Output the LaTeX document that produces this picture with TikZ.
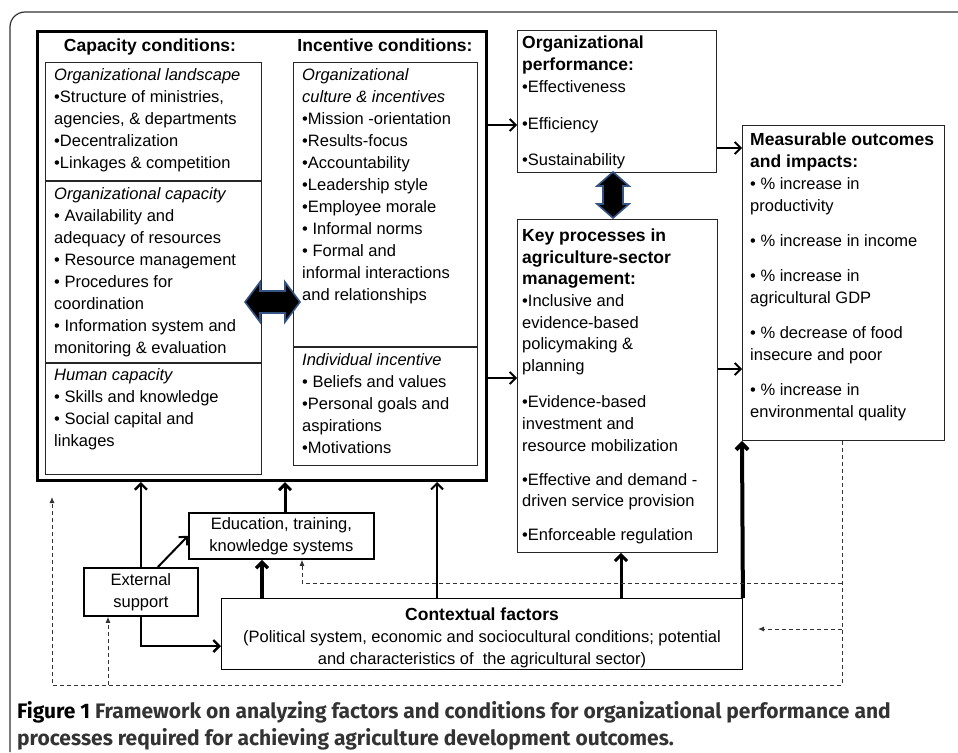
\documentclass[tikz,border=0pt]{standalone}
\usepackage{fontspec}
\setmainfont{Liberation Sans}
\newfontfamily\capfont{Fira Sans}
\usetikzlibrary{arrows.meta,positioning,calc}
\definecolor{arredge}{RGB}{52,84,132}
\newcommand\boxtitle[1]{{\fontsize{17.5}{22}\selectfont\bfseries #1}}

\begin{document}
\begin{tikzpicture}
	[x=1pt, y=-1pt,
	txt/.style = {anchor=north west, align=left, inner sep=0pt, font=\fontsize{16.5}{22}\selectfont, execute at begin node=\strut},
	hdr/.style = {anchor=base, inner sep=0pt, font=\fontsize{17.5}{22}\selectfont\bfseries},
	sect/.style = {draw=black!85, line width=0.9pt, anchor=north west, inner sep=0pt},
	blk/.style = {draw=black, line width=1.8pt, anchor=north west, inner sep=0pt, align=center, font=\fontsize{16.5}{22}\selectfont},
	arr/.style = {-{Straight Barb[length=6pt,width=12pt]}, line width=#1},
	dsh/.style = {dash pattern=on 4pt off 3pt, line width=0.9pt, black!80},
	dsharr/.style = {dsh, -{Latex[length=6pt,width=5pt]}},
	blockarr/.style = {draw=arredge, line width=1.6pt, fill=black, line join=miter}
	]
	\useasboundingbox (0,0) rectangle (958,752);

	\draw[line width=1.2pt, black!80, rounded corners=15pt] (958,12) -- (10,12) -- (10,752);

	\node[sect, draw=black, line width=3pt, minimum width=449, minimum height=449] (cond) at (36,30) {};
	\node[hdr] (caphd) at (150,52) {Capacity conditions:};
	\node[hdr] (inchd) at (385,52) {Incentive conditions:};

	\node[sect, minimum width=216, minimum height=118] (land) at (45,62) {};
	\node[sect, minimum width=216, minimum height=181] (orgcap) at (land.south west) {};
	\node[sect, minimum width=216, minimum height=111] (human) at (orgcap.south west) {};
	\node[sect, minimum width=184, minimum height=284] (cult) at (293,62) {};
	\node[sect, minimum width=184, minimum height=118] (indiv) at (cult.south west) {};

	\node[txt] (landtxt) at (54,68.6) {\textit{Organizational landscape}\\•Structure of ministries,\\agencies, \& departments\\•Decentralization\\•Linkages \& competition};
	\node[txt] (orgcaptxt) at (54,187.6) {\textit{Organizational capacity}\\• Availability and\\adequacy of resources\\• Resource management\\• Procedures for\\coordination\\• Information system and\\monitoring \& evaluation};
	\node[txt] (humantxt) at (54,368.6) {\textit{Human capacity}\\• Skills and knowledge\\• Social capital and\\linkages};
	\node[txt] (culttxt) at (302,68.6) {\textit{Organizational}\\\textit{culture \& incentives}\\•Mission -orientation\\•Results-focus\\•Accountability\\•Leadership style\\•Employee morale\\• Informal norms\\• Formal and\\informal interactions\\and relationships};
	\node[txt] (indivtxt) at (302,353.6) {\textit{Individual incentive}\\• Beliefs and values\\•Personal goals and\\aspirations\\•Motivations};

	\draw[blockarr] (245,302) -- (260,282) -- (260,291) -- (285,291) -- (285,282) -- (300,302) -- (285,322) -- (285,313) -- (260,313) -- (260,322) -- cycle;

	\node[sect, minimum width=199, minimum height=142] (perf) at (517,30) {};
	\node[txt] (perftxt) at (522,35.6) {\boxtitle{Organizational}\\\boxtitle{performance:}\\•Effectiveness\\[15pt]•Efficiency\\[14pt]•Sustainability};

	\node[sect, minimum width=200, minimum height=333] (keyproc) at (517,219) {};
	\node[txt, font=\fontsize{16.5}{21.6}\selectfont] (keytxt) at (522,228.9) {\boxtitle{Key processes in}\\\boxtitle{agriculture-sector}\\\boxtitle{management:}\\•Inclusive and\\evidence-based\\policymaking \&\\planning\\[15pt]•Evidence-based\\investment and\\resource mobilization\\[12.5pt]•Effective and demand -\\driven service provision\\[12.5pt]•Enforceable regulation};

	\draw[blockarr] (613,172) -- (629,186) -- (623,186) -- (623,204) -- (629,204) -- (613,218) -- (597,204) -- (603,204) -- (603,186) -- (597,186) -- cycle;

	\node[sect, minimum width=202, minimum height=315] (meas) at (742,125) {};
	\node[txt] (meastxt) at (750,132.6) {\boxtitle{Measurable outcomes}\\\boxtitle{and impacts:}\\• \% increase in\\productivity\\[13pt]• \% increase in income\\[13pt]• \% increase in\\agricultural GDP\\[13pt]• \% decrease of food\\insecure and poor\\[13pt]• \% increase in\\environmental quality};

	\node[blk, minimum width=185, minimum height=46] (edu) at (188,512) {Education, training,\\knowledge systems};
	\node[blk, minimum width=114, minimum height=48] (ext) at (83,567) {External\\support};
	\node[sect, draw=black, minimum width=521, minimum height=71] (ctx) at (221,598) {};
	\node[txt, anchor=north, align=center] (ctxtxt) at (482,607.6) {\boxtitle{Contextual factors}\\(Political system, economic and sociocultural conditions; potential\\and characteristics of \ the agricultural sector)};

	\draw[arr=1.8pt] (cond.east |- 0,125) -- (perf.west |- 0,125);
	\draw[arr=1.8pt] (cond.east |- 0,378) -- (keyproc.west |- 0,378);
	\draw[arr=1.8pt] (perf.east |- 0,148) -- (meas.west |- 0,148);
	\draw[arr=1.8pt] (keyproc.east |- 0,369) -- (meas.west |- 0,369);

	\draw[arr=2.4pt] (ext.north) -- (ext.north |- cond.south);
	\draw[arr=2pt] ($(ext.north)+(17,0)$) -- (edu.west);
	\draw[arr=3pt] (edu.north -| 285,0) -- (cond.south -| 285,0);
	\draw[arr=3.4pt] (ctx.north -| 262,0) -- (edu.south -| 262,0);
	\draw[arr=2.4pt] (ext.south) |- (ctx.west |- 0,646);
	\draw[arr=2pt] (ctx.north -| 437,0) -- (cond.south -| 437,0);
	\draw[arr=3pt] (ctx.north -| 621,0) -- (keyproc.south -| 621,0);
	\draw[arr=4pt] (ctx.north east) -- (meas.south west);

	\coordinate (dR) at (842,685);
	\coordinate (dL) at (52,685);
	\coordinate (dTop) at (52,497);
	\draw[dsharr] (meas.south -| dR) -- (dR) -- (dL) -- (dTop);
	\draw[dsharr] (dR |- 0,583) -| (edu.south -| 302,0);
	\draw[dsharr] (dR |- 0,629) -- (758,629);
	\draw[dsharr] (dL -| 108,0) -- (ext.south -| 108,0);

	\node[anchor=base west, inner sep=0pt, align=left, text=black!80, font=\capfont\fontsize{21}{27}\selectfont\bfseries] (cap) at (17,745) {\textcolor{black}{Figure 1} Framework on analyzing factors and conditions for organizational performance and\\processes required for achieving agriculture development outcomes.};
\end{tikzpicture}
\end{document}
